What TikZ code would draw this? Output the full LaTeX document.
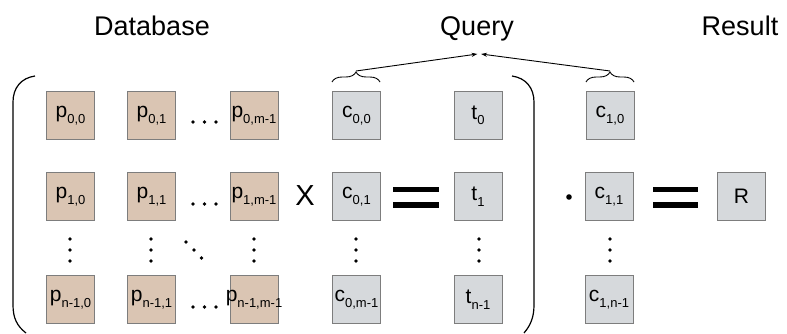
\documentclass[tikz,border=0pt]{standalone}
\usepackage{fontspec}
\setmainfont{Liberation Sans}
\usetikzlibrary{decorations.pathreplacing,arrows.meta}

\definecolor{dbfill}{RGB}{218,197,179}
\definecolor{qfill}{RGB}{214,217,220}
\definecolor{cellline}{RGB}{125,125,125}

% lowered, smaller index text inside a cell
\newcommand\idx[1]{\raisebox{-5.5pt}{\fontsize{13}{13}\selectfont #1}}

\tikzset{
  cell/.style={draw=cellline, line width=0.9pt, minimum width=48pt, minimum height=48pt,
    inner sep=0pt, font=\fontsize{21}{21}\selectfont},
  dbcell/.style={cell, fill=dbfill},
  qcell/.style={cell, fill=qfill},
  title/.style={font=\fontsize{27}{27}\selectfont, anchor=base},
  dotmark/.style={fill=black},
  bar/.style={fill=black},
  paren/.style={line width=1.2pt},
  qbrace/.style={decorate, decoration={brace, amplitude=10pt}, line width=0.9pt},
  qarrow/.style={-{Stealth[length=6pt,width=4pt]}, line width=0.9pt},
}

\begin{document}
\begin{tikzpicture}[x=1pt,y=-1pt]
\useasboundingbox (0,0) rectangle (787,334);

% titles
\node[title] (tdb) at (152,36) {Database};
\node[title] (tq)  at (477,36) {Query};
\node[title] (tr)  at (740,36) {Result};

% database matrix
\node[dbcell] (p00) at (70.5,115.5) {p\idx{0,0}};
\node[dbcell] (p01) at (151.5,115.5) {p\idx{0,1}};
\node[dbcell] (p0m) at (254,115.5) {\hspace*{-2pt}p\idx{0,m-1}\hspace*{-2pt}};
\node[dbcell] (p10) at (70.5,196.5) {p\idx{1,0}};
\node[dbcell] (p11) at (151.5,196.5) {p\idx{1,1}};
\node[dbcell] (p1m) at (254,196.5) {\hspace*{-2pt}p\idx{1,m-1}\hspace*{-2pt}};
\node[dbcell] (pn0) at (70.5,299.5) {\hspace*{-2pt}p\idx{n-1,0}\hspace*{-2pt}};
\node[dbcell] (pn1) at (151.5,299.5) {\hspace*{-2pt}p\idx{n-1,1}\hspace*{-2pt}};
\node[dbcell] (pnm) at (254,299.5) {\hspace*{-6pt}p\idx{n-1,m-1}\hspace*{-6pt}};

% horizontal ellipses
\foreach \y in {122,204,307}
  \foreach \x in {193,204.5,216}
    \fill[dotmark] (\x,\y) circle (1.9);
% vertical ellipses
\foreach \x in {70,151,254,356,479,610}
  \foreach \y in {239,250,261}
    \fill[dotmark] (\x,\y) circle (1.9);
% diagonal ellipsis
\foreach \x/\y in {186/242,194/250,201.5/258}
  \fill[dotmark] (\x,\y) circle (1.9);

% first query column and its product
\node[font=\fontsize{29}{29}\selectfont] (times) at (305,196) {X};
\node[qcell] (c00) at (356.5,115.5) {c\idx{0,0}};
\node[qcell] (c01) at (356.5,196.5) {c\idx{0,1}};
\node[qcell] (c0m) at (356.5,299.5) {\hspace*{-2pt}c\idx{0,m-1}\hspace*{-2pt}};

\fill[bar] (393,186.5) rectangle (439,192);
\fill[bar] (393,202) rectangle (439,207.5);

\node[qcell] (t0) at (478,115.5) {t\idx{0}};
\node[qcell] (t1) at (478,196.5) {t\idx{1}};
\node[qcell] (tn) at (478,299.5) {t\idx{n-1}};

% enclosing parentheses
\draw[paren] (35,76) .. controls (21,78) and (13,88) .. (13,102) -- (13,305)
             .. controls (13,318) and (17,326) .. (26,333);
\draw[paren] (512,76) .. controls (526,78) and (534,88) .. (534,102) -- (534,305)
             .. controls (534,318) and (530,326) .. (524,333);

% second query column and the result
\fill[dotmark] (569,197) circle (2.8);
\node[qcell] (c10) at (610,115.5) {c\idx{1,0}};
\node[qcell] (c11) at (609,196.5) {c\idx{1,1}};
\node[qcell] (c1n) at (609,299.5) {c\idx{1,n-1}};

\fill[bar] (653,186.5) rectangle (698,192);
\fill[bar] (653,202) rectangle (698,207.5);

\node[qcell] (res) at (741.5,196.5) {R};

% braces marking the query parts
\draw[qbrace] (332,82) -- (380,82);
\draw[qbrace] (586,82) -- (634,82);
\coordinate (b0) at (356,71);
\coordinate (b1) at (610,71);
\coordinate (ql) at (477.5,54);
\coordinate (qr) at (481,54);
\draw[qarrow] (b0) -- (ql);
\draw[qarrow] (b1) -- (qr);
\end{tikzpicture}
\end{document}
